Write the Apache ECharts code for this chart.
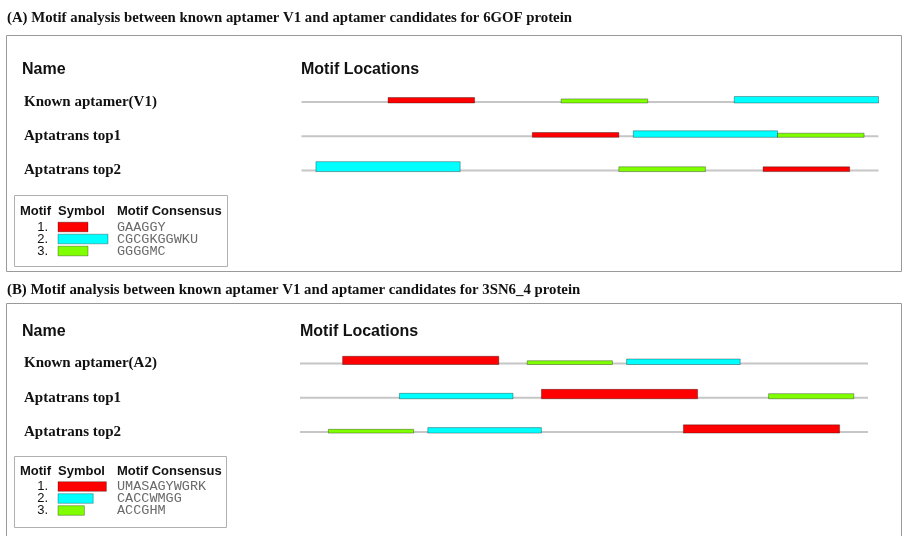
<!DOCTYPE html>
<html>
<head>
<meta charset="utf-8">
<script src="https://cdn.jsdelivr.net/npm/echarts@6/dist/echarts.min.js"></script>
<style>
  html, body { margin: 0; padding: 0; background: #ffffff; }
  #chart { width: 903px; height: 536px; }
</style>
</head>
<body>
<div id="chart"></div>
<script>
// Every aptamer track has the same length in nucleotides
const seqLength = 40;

// Panel A: motif sites for the 6GOF protein
const titleA = '(A) Motif analysis between known aptamer V1 and aptamer candidates for 6GOF protein';
const namesA = ['Known aptamer(V1)', 'Aptatrans top1', 'Aptatrans top2'];
const motifsA = ['GAAGGY', 'CGCGKGGWKU', 'GGGGMC'];
// [sequence row, motif index, start position (nt, 0-based), site score]
const sitesA = [
  [0, 0, 6, 1.6], [0, 2, 18, 1.2], [0, 1, 30, 1.9],
  [1, 0, 16, 1.4], [1, 1, 23, 1.9], [1, 2, 33, 1.2],
  [2, 1, 1, 2.9], [2, 2, 22, 1.4], [2, 0, 32, 1.4]
];

// Panel B: motif sites for the 3SN6_4 protein
const titleB = '(B) Motif analysis between known aptamer V1 and aptamer candidates for 3SN6_4 protein';
const namesB = ['Known aptamer(A2)', 'Aptatrans top1', 'Aptatrans top2'];
const motifsB = ['UMASAGYWGRK', 'CACCWMGG', 'ACCGHM'];
const sitesB = [
  [0, 0, 3, 2.4], [0, 2, 16, 1.1], [0, 1, 23, 1.6],
  [1, 1, 7, 1.6], [1, 0, 17, 2.75], [1, 2, 33, 1.5],
  [2, 2, 2, 1.1], [2, 1, 9, 1.6], [2, 0, 27, 2.4]
];

// Legend column headers
const legendHeaders = ['Motif', 'Symbol', 'Motif Consensus'];

// Motif fill colours (motif 1, 2, 3)
const motifColors = ['#ff0000', '#00ffff', '#7fff00'];
const ROW = 10; // y-axis units between neighbouring tracks

const serif = '"Liberation Serif", "Times New Roman", serif';
const sans = '"Liberation Sans", Arial, sans-serif';
const mono = '"Liberation Mono", "Courier New", monospace';

function trackSeries(names, axisIndex) {
  return {
    type: 'custom', xAxisIndex: axisIndex, yAxisIndex: axisIndex, silent: true, z: 1,
    data: names.map((n, i) => [i, seqLength]),
    renderItem: function (params, api) {
      const base = (api.value(0) + 1) * ROW;
      const p0 = api.coord([0, base]);
      const p1 = api.coord([api.value(1), base]);
      return { type: 'line', shape: { x1: p0[0], y1: p0[1], x2: p1[0], y2: p1[1] },
               style: { stroke: '#c6c6c6', lineWidth: 2 } };
    }
  };
}

function siteSeries(sites, motifs, axisIndex) {
  return {
    type: 'custom', xAxisIndex: axisIndex, yAxisIndex: axisIndex, silent: true, z: 2,
    data: sites,
    renderItem: function (params, api) {
      const m = api.value(1);
      const start = api.value(2);
      const base = (api.value(0) + 1) * ROW;
      const a = api.coord([start, base]);
      const b = api.coord([start + motifs[m].length, base - api.value(3)]);
      return { type: 'rect',
               shape: { x: a[0], y: b[1] + 1, width: b[0] - a[0], height: a[1] - b[1] },
               style: { fill: motifColors[m], stroke: 'rgba(0,0,0,0.32)', lineWidth: 1 } };
    }
  };
}

function symbolSeries(motifs, xIdx, yIdx) {
  return {
    type: 'custom', xAxisIndex: xIdx, yAxisIndex: yIdx, silent: true,
    data: motifs.map((s, i) => [s.length, i]),
    renderItem: function (params, api) {
      const i = api.value(1);
      const a = api.coord([0, i]);
      const b = api.coord([api.value(0), i]);
      const h = api.size([0, 1])[1] * 0.8;
      return { type: 'rect', shape: { x: a[0], y: a[1] - h / 2, width: b[0] - a[0], height: h },
               style: { fill: motifColors[i], stroke: 'rgba(0,0,0,0.3)', lineWidth: 1 } };
    }
  };
}

function trackXAxis(gridIndex) {
  return { type: 'value', gridIndex: gridIndex, min: 0, max: seqLength, show: false };
}
function trackYAxis(gridIndex, names, margin) {
  return {
    type: 'value', gridIndex: gridIndex, min: 0, max: names.length * ROW, interval: ROW, inverse: true,
    axisLine: { show: false }, axisTick: { show: false }, splitLine: { show: false },
    axisLabel: {
      margin: margin, align: 'left', color: '#111',
      fontFamily: serif, fontWeight: 'bold', fontSize: 15,
      formatter: v => (v > 0 ? names[v / ROW - 1] : '')
    }
  };
}
function legendXAxis(gridIndex, motifs) {
  return { type: 'value', gridIndex: gridIndex, min: 0,
           max: Math.max(...motifs.map(s => s.length)), show: false };
}
function legendNumberAxis(gridIndex, motifs) {
  return {
    type: 'category', gridIndex: gridIndex, inverse: true, position: 'left',
    data: motifs.map((s, i) => (i + 1) + '.'),
    axisLine: { show: false }, axisTick: { show: false },
    axisLabel: { interval: 0, hideOverlap: false, margin: 10, color: '#111', fontFamily: sans, fontSize: 13 }
  };
}
function legendConsensusAxis(gridIndex, motifs, margin) {
  return {
    type: 'category', gridIndex: gridIndex, inverse: true, position: 'right',
    data: motifs,
    axisLine: { show: false }, axisTick: { show: false },
    axisLabel: { interval: 0, hideOverlap: false, margin: margin, align: 'left', color: '#6a6a6a',
                 fontFamily: mono, fontSize: 13.5 }
  };
}

function headerTexts(y) {
  const xs = [20, 58, 117];
  return legendHeaders.map((t, i) => ({
    type: 'text', left: xs[i], top: y,
    style: { text: t, fill: '#111', font: 'bold 13px ' + sans }
  }));
}

const chart = echarts.init(document.getElementById('chart'), null, { renderer: 'canvas' });

chart.setOption({
  backgroundColor: '#ffffff',
  animation: false,
  grid: [
    { left: 301.5, top: 67.7, width: 577, height: 102.9 },
    { left: 300, top: 329.2, width: 568, height: 102.9 },
    { left: 58, top: 221, width: 50, height: 36 },
    { left: 58, top: 480.5, width: 48.4, height: 36 }
  ],
  xAxis: [
    trackXAxis(0), trackXAxis(1),
    legendXAxis(2, motifsA), legendXAxis(3, motifsB)
  ],
  yAxis: [
    trackYAxis(0, namesA, 277.5),
    trackYAxis(1, namesB, 276),
    legendNumberAxis(2, motifsA),
    legendConsensusAxis(2, motifsA, 9),
    legendNumberAxis(3, motifsB),
    legendConsensusAxis(3, motifsB, 10.6)
  ],
  graphic: [
    { type: 'text', x: 7, y: 11, scaleX: 0.986,
      style: { text: titleA, fill: '#111', font: 'bold 15px ' + serif } },
    { type: 'rect', shape: { x: 6.5, y: 35.5, width: 895, height: 236 },
      style: { fill: 'none', stroke: '#9a9a9a', lineWidth: 1 } },
    { type: 'text', left: 22, top: 62, style: { text: 'Name', fill: '#111', font: 'bold 16px ' + sans } },
    { type: 'text', left: 301, top: 62, style: { text: 'Motif Locations', fill: '#111', font: 'bold 16px ' + sans } },
    { type: 'rect', shape: { x: 14.5, y: 195.5, width: 213, height: 71 },
      style: { fill: 'none', stroke: '#b0b0b0', lineWidth: 1 } },
    ...headerTexts(205),

    { type: 'text', x: 7, y: 283, scaleX: 0.986,
      style: { text: titleB, fill: '#111', font: 'bold 15px ' + serif } },
    { type: 'rect', shape: { x: 6.5, y: 303.5, width: 895, height: 240 },
      style: { fill: 'none', stroke: '#9a9a9a', lineWidth: 1 } },
    { type: 'text', left: 22, top: 324, style: { text: 'Name', fill: '#111', font: 'bold 16px ' + sans } },
    { type: 'text', left: 300, top: 324, style: { text: 'Motif Locations', fill: '#111', font: 'bold 16px ' + sans } },
    { type: 'rect', shape: { x: 14.5, y: 456.5, width: 212, height: 71 },
      style: { fill: 'none', stroke: '#b0b0b0', lineWidth: 1 } },
    ...headerTexts(465)
  ],
  series: [
    trackSeries(namesA, 0), siteSeries(sitesA, motifsA, 0),
    trackSeries(namesB, 1), siteSeries(sitesB, motifsB, 1),
    symbolSeries(motifsA, 2, 2),
    symbolSeries(motifsB, 3, 4)
  ]
});
</script>
</body>
</html>
